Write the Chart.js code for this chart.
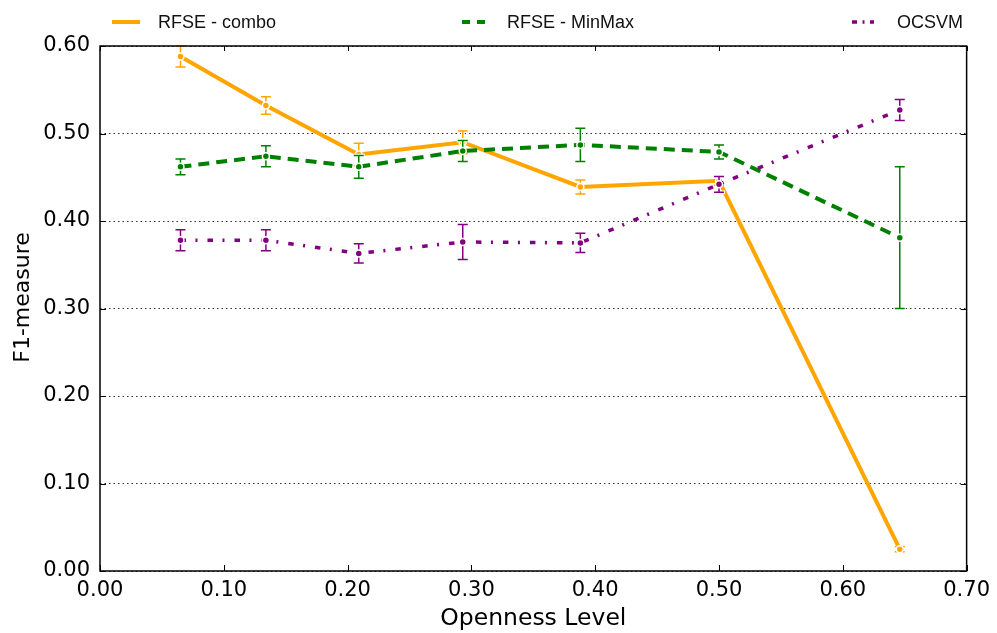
<!DOCTYPE html>
<html>
<head>
<meta charset="utf-8">
<script src="https://cdn.jsdelivr.net/npm/chart.js@4.4.0/dist/chart.umd.min.js"></script>
<style>
  html, body { margin: 0; padding: 0; background: #fff; }
  #wrap { width: 997px; height: 633px; position: relative; }
</style>
</head>
<body>
<div id="wrap"><canvas id="f1Chart"></canvas></div>
<script>
// openness levels (x)
const openness = [0.065, 0.134, 0.209, 0.293, 0.388, 0.500, 0.646];

// F1 means and error bar half-widths
const rfseCombo = [0.588, 0.532, 0.476, 0.490, 0.439, 0.446, 0.025];
const rfseComboErr = [0.012, 0.010, 0.013, 0.013, 0.008, 0.005, 0.003];
const rfseMinMax = [0.462, 0.474, 0.462, 0.480, 0.487, 0.479, 0.381];
const rfseMinMaxErr = [0.009, 0.012, 0.013, 0.012, 0.019, 0.008, 0.081];
const ocsvm = [0.378, 0.378, 0.363, 0.376, 0.375, 0.442, 0.527];
const ocsvmErr = [0.012, 0.012, 0.011, 0.020, 0.011, 0.009, 0.012];

const seriesNames = ["RFSE - combo", "RFSE - MinMax", "OCSVM"];
const yTitle = "F1-measure";
const ORANGE = "#FFA500", GREEN = "#008000", PURPLE = "#800080";

const toPts = (ys) => ys.map((y, i) => ({ x: openness[i], y: y }));

// error bars, drawn right before each dataset so markers sit on top
const errorBars = {
  id: "errorBars",
  beforeDatasetDraw(chart, args) {
    const ds = chart.data.datasets[args.index];
    if (!ds.errors) return;
    const y = chart.scales.y;
    const ctx = chart.ctx;
    ctx.save();
    ctx.setLineDash([]);
    args.meta.data.forEach((pt, i) => {
      const e = ds.errors[i];
      const top = y.getPixelForValue(ds.data[i].y + e);
      const bot = y.getPixelForValue(ds.data[i].y - e);
      const cx = pt.x;
      [["#fff", 3.5, 6], [ds.borderColor, 1.5, 5]].forEach(([col, w, c]) => {
        ctx.strokeStyle = col;
        ctx.lineWidth = w;
        ctx.beginPath();
        ctx.moveTo(cx, top); ctx.lineTo(cx, bot);
        ctx.moveTo(cx - c, top); ctx.lineTo(cx + c, top);
        ctx.moveTo(cx - c, bot); ctx.lineTo(cx + c, bot);
        ctx.stroke();
      });
    });
    ctx.restore();
  }
};

// frame, inward ticks, y title and the legend row above the plot
const frameAndLegend = {
  id: "frameAndLegend",
  afterDraw(chart) {
    const { ctx, chartArea: a, scales } = chart;
    ctx.save();
    ctx.setLineDash([]);
    ctx.strokeStyle = "#000";
    ctx.lineWidth = 1;
    ctx.beginPath();
    scales.x.ticks.forEach(t => {
      const px = Math.round(scales.x.getPixelForValue(t.value)) + 0.5;
      ctx.moveTo(px, a.bottom); ctx.lineTo(px, a.bottom - 6);
      ctx.moveTo(px, a.top); ctx.lineTo(px, a.top + 5);
    });
    scales.y.ticks.forEach(t => {
      const py = Math.round(scales.y.getPixelForValue(t.value)) + 0.5;
      ctx.moveTo(a.right, py); ctx.lineTo(a.right - 6, py);
      ctx.moveTo(a.left, py); ctx.lineTo(a.left + 6, py);
    });
    ctx.stroke();
    ctx.lineWidth = 1.5;
    ctx.strokeRect(a.left, a.top, a.right - a.left, a.bottom - a.top);

    // y axis title
    ctx.save();
    ctx.translate(23, (a.top + a.bottom) / 2 - 11);
    ctx.rotate(-Math.PI / 2);
    ctx.font = "22px 'DejaVu Sans', sans-serif";
    ctx.fillStyle = "#000";
    ctx.textAlign = "center";
    ctx.textBaseline = "middle";
    ctx.fillText(yTitle, 0, 0);
    ctx.restore();

    // legend
    const ly = 22;
    ctx.font = "18px 'Liberation Sans', Arial, sans-serif";
    ctx.fillStyle = "#111";
    ctx.textBaseline = "middle";
    ctx.lineWidth = 4;
    ctx.lineCap = "butt";

    ctx.strokeStyle = ORANGE;
    ctx.beginPath(); ctx.moveTo(112, ly); ctx.lineTo(140, ly); ctx.stroke();
    ctx.fillText(seriesNames[0], 158, ly + 1);

    ctx.strokeStyle = GREEN;
    ctx.setLineDash([8, 7]);
    ctx.beginPath(); ctx.moveTo(462, ly); ctx.lineTo(485, ly); ctx.stroke();
    ctx.setLineDash([]);
    ctx.fillText(seriesNames[1], 507, ly + 1);

    ctx.strokeStyle = PURPLE;
    ctx.lineWidth = 3.5;
    ctx.setLineDash([5, 5.5, 2, 5.5]);
    ctx.beginPath(); ctx.moveTo(852, ly); ctx.lineTo(874, ly); ctx.stroke();
    ctx.setLineDash([]);
    ctx.fillText(seriesNames[2], 897, ly + 1);
    ctx.restore();
  }
};

const tickFont = { family: "'DejaVu Sans', sans-serif", size: 21 };
const titleFont = { family: "'DejaVu Sans', sans-serif", size: 23.5 };

new Chart(document.getElementById("f1Chart"), {
  type: "line",
  data: {
    datasets: [
      {
        label: seriesNames[0],
        data: toPts(rfseCombo),
        errors: rfseComboErr,
        borderColor: ORANGE,
        borderWidth: 4,
        pointBackgroundColor: ORANGE,
        pointBorderColor: "#fff",
        pointBorderWidth: 1.5,
        pointRadius: 3.5,
        order: 2,
      },
      {
        label: seriesNames[1],
        data: toPts(rfseMinMax),
        errors: rfseMinMaxErr,
        borderColor: GREEN,
        borderWidth: 4,
        borderDash: [11, 7],
        pointBackgroundColor: GREEN,
        pointBorderColor: "#fff",
        pointBorderWidth: 1.5,
        pointRadius: 3.5,
        order: 1,
      },
      {
        label: seriesNames[2],
        data: toPts(ocsvm),
        errors: ocsvmErr,
        borderColor: PURPLE,
        borderWidth: 3.5,
        borderDash: [5.5, 9.5, 2, 10],
        pointBackgroundColor: PURPLE,
        pointBorderColor: "#fff",
        pointBorderWidth: 1.5,
        pointRadius: 3.5,
        order: 0,
      },
    ],
  },
  options: {
    responsive: true,
    maintainAspectRatio: false,
    animation: false,
    events: [],
    layout: { padding: { top: 46, right: 30, left: 0, bottom: 0 } },
    scales: {
      x: {
        type: "linear",
        min: 0,
        max: 0.7,
        afterFit: (s) => { s.height = 62; },
        ticks: {
          stepSize: 0.1,
          padding: 7,
          color: "#000",
          font: tickFont,
          maxRotation: 0,
          callback: (v) => v.toFixed(2),
        },
        grid: { display: false, drawTicks: false },
        border: { display: false },
        title: {
          display: true,
          text: "Openness Level",
          color: "#000",
          font: titleFont,
          padding: { top: 0, bottom: 0 },
        },
      },
      y: {
        type: "linear",
        min: 0,
        max: 0.6,
        afterFit: (s) => { s.width = 100; },
        ticks: {
          stepSize: 0.1,
          padding: 10,
          color: "#000",
          font: tickFont,
          callback: (v) => v.toFixed(2),
        },
        grid: { color: "#333", lineWidth: 1, drawTicks: false },
        border: { display: false, dash: [1.5, 3] },
        title: { display: false },
      },
    },
    plugins: {
      legend: { display: false },
      tooltip: { enabled: false },
    },
  },
  plugins: [errorBars, frameAndLegend],
});
</script>
</body>
</html>
